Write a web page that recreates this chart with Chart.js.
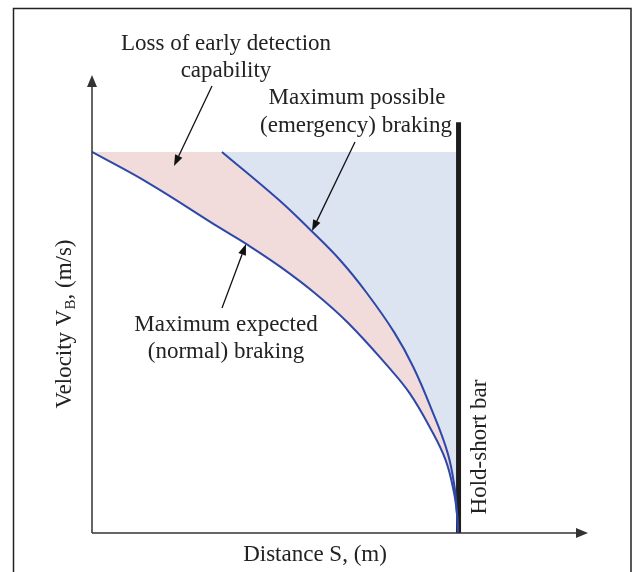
<!DOCTYPE html>
<html>
<head>
<meta charset="utf-8">
<script src="https://cdn.jsdelivr.net/npm/chart.js@4"></script>
<style>
  body { margin: 0; background: #fff; }
  #wrap { width: 641px; height: 572px; position: relative; }
</style>
</head>
<body>
<div id="wrap"><canvas id="myChart"></canvas></div>
<script>
// curve values (distance 0..100, velocity 0..100)
var normalS = [0, 11.4, 25.8, 31.4, 38.0, 44.9, 51.6, 59.8, 64.0, 68.1, 71.3, 73.0, 73.6, 73.8];
var normalV = [83.2, 76.4, 66.6, 62.9, 58.1, 52.4, 45.9, 36.2, 30.6, 23.1, 15.9, 8.7, 3.9, 0];

var emergS = [26.2, 37.7, 44.0, 50.0, 55.4, 61.0, 64.8, 68.5, 71.7, 73.1, 73.6, 73.8];
var emergV = [83.2, 72.7, 66.2, 59.6, 52.4, 43.7, 36.2, 26.9, 17.5, 10.0, 4.0, 0];

var topS = [0, 26.2, 73.8];
var topV = [83.2, 83.2, 83.2];

var barS = [73.9, 73.9];
var barV = [0, 89.7];

var lineColor = "rgb(45, 72, 168)";
var serif = "'Liberation Serif', 'Times New Roman', serif";

function pts(xs, ys) {
  return xs.map(function (x, i) { return { x: x, y: ys[i] }; });
}

// arrows, frame, axes and labels
var decorations = {
  id: "decorations",
  afterDraw: function (chart) {
    var ctx = chart.ctx;
    var a = chart.chartArea;
    ctx.save();

    // frame
    ctx.strokeStyle = "#222";
    ctx.lineWidth = 1.5;
    ctx.beginPath();
    ctx.moveTo(13.5, 572);
    ctx.lineTo(13.5, 8.5);
    ctx.lineTo(631, 8.5);
    ctx.lineTo(631, 572);
    ctx.stroke();

    // axes
    ctx.strokeStyle = "#333";
    ctx.lineWidth = 1.5;
    arrow(ctx, a.left, a.bottom, a.left, a.top, 12, 5);
    arrow(ctx, a.left, a.bottom, a.right, a.bottom, 12, 5);

    // pointer arrows
    ctx.strokeStyle = "#111";
    ctx.lineWidth = 1.3;
    arrow(ctx, 212, 86, 174, 166, 11, 4);
    arrow(ctx, 355, 142, 312, 231, 11, 4);
    arrow(ctx, 222, 308, 246, 244, 11, 4);

    ctx.fillStyle = "#222";
    ctx.font = "23px " + serif;
    ctx.textAlign = "center";
    ctx.textBaseline = "alphabetic";
    ctx.fillText("Loss of early detection", 226, 50);
    ctx.fillText("capability", 226, 77);
    ctx.fillText("Maximum possible", 357, 104);
    ctx.fillText("(emergency) braking", 356, 132);
    ctx.fillText("Maximum expected", 226, 331);
    ctx.fillText("(normal) braking", 226, 358);
    ctx.fillText("Distance S, (m)", 315, 561);

    // rotated labels
    ctx.save();
    ctx.translate(486, 447);
    ctx.rotate(-Math.PI / 2);
    ctx.fillText("Hold-short bar", 0, 0);
    ctx.restore();

    ctx.save();
    ctx.translate(71, 324);
    ctx.rotate(-Math.PI / 2);
    var p1 = "Velocity V", p2 = "B", p3 = ", (m/s)";
    ctx.font = "23px " + serif;
    var w1 = ctx.measureText(p1).width;
    var w3 = ctx.measureText(p3).width;
    ctx.font = "15px " + serif;
    var w2 = ctx.measureText(p2).width;
    var x0 = -(w1 + w2 + w3) / 2;
    ctx.textAlign = "left";
    ctx.font = "23px " + serif;
    ctx.fillText(p1, x0, 0);
    ctx.font = "15px " + serif;
    ctx.fillText(p2, x0 + w1, 4);
    ctx.font = "23px " + serif;
    ctx.fillText(p3, x0 + w1 + w2, 0);
    ctx.restore();

    ctx.restore();
  },
};

function arrow(ctx, x1, y1, x2, y2, len, half) {
  var ang = Math.atan2(y2 - y1, x2 - x1);
  var bx = x2 - len * Math.cos(ang);
  var by = y2 - len * Math.sin(ang);
  ctx.beginPath();
  ctx.moveTo(x1, y1);
  ctx.lineTo(bx, by);
  ctx.stroke();
  ctx.fillStyle = ctx.strokeStyle;
  ctx.beginPath();
  ctx.moveTo(x2, y2);
  ctx.lineTo(bx + half * Math.sin(ang), by - half * Math.cos(ang));
  ctx.lineTo(bx - half * Math.sin(ang), by + half * Math.cos(ang));
  ctx.closePath();
  ctx.fill();
}

(function () {
  var ctx = document.getElementById("myChart").getContext("2d");
  new Chart(ctx, {
    type: "line",
    data: {
      datasets: [
        {
          label: "Maximum possible (emergency) braking",
          data: pts(emergS, emergV),
          borderColor: lineColor,
          borderWidth: 2,
          backgroundColor: "rgb(220, 228, 241)",
          fill: 2,
          pointRadius: 0,
          tension: 0.4,
        },
        {
          label: "Maximum expected (normal) braking",
          data: pts(normalS, normalV),
          borderColor: lineColor,
          borderWidth: 2,
          backgroundColor: "rgb(242, 219, 219)",
          fill: 2,
          pointRadius: 0,
          tension: 0.4,
        },
        {
          label: "top",
          data: pts(topS, topV),
          borderWidth: 0,
          borderColor: "rgba(0,0,0,0)",
          pointRadius: 0,
          fill: false,
        },
        {
          label: "Hold-short bar",
          data: pts(barS, barV),
          borderColor: "#1e1c1c",
          borderWidth: 5,
          borderCapStyle: "butt",
          pointRadius: 0,
          fill: false,
        },
      ],
    },
    options: {
      responsive: true,
      maintainAspectRatio: false,
      animation: false,
      layout: { padding: { left: 92, right: 53, top: 75, bottom: 39 } },
      scales: {
        x: { type: "linear", min: 0, max: 100, display: false },
        y: { type: "linear", min: 0, max: 100, display: false },
      },
      plugins: {
        legend: { display: false },
        tooltip: { enabled: false },
        filler: { drawTime: "beforeDatasetsDraw" },
      },
    },
    plugins: [decorations],
  });
})();
</script>
</body>
</html>
